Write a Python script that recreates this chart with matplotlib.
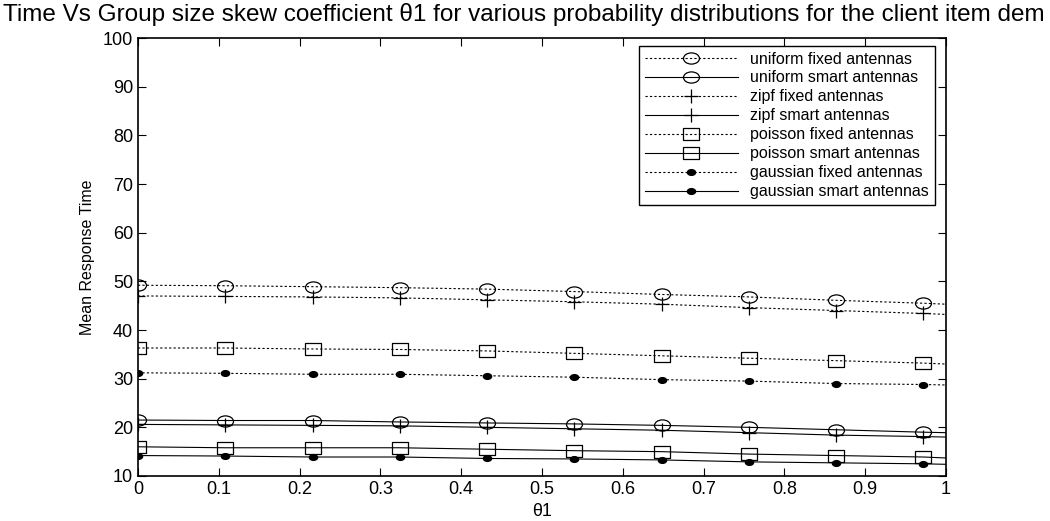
import numpy as np
import matplotlib
matplotlib.use("Agg")
import matplotlib.pyplot as plt
from matplotlib.path import Path
from matplotlib.transforms import Affine2D

plt.rcParams["font.family"] = ["Liberation Sans", "DejaVu Sans"]

theta = [0, 0.108, 0.216, 0.324, 0.432, 0.54, 0.648, 0.756, 0.864, 0.972, 1.0]

uniform_fixed = [49.2, 49.1, 48.9, 48.7, 48.4, 47.9, 47.3, 46.8, 46.1, 45.5, 45.3]
uniform_smart = [21.5, 21.4, 21.4, 21.1, 20.9, 20.7, 20.4, 20.0, 19.5, 19.0, 18.9]
zipf_fixed = [47.0, 46.9, 46.8, 46.6, 46.2, 45.8, 45.3, 44.6, 44.0, 43.4, 43.2]
zipf_smart = [20.6, 20.5, 20.4, 20.3, 20.0, 19.7, 19.4, 18.9, 18.4, 18.1, 18.0]
poisson_fixed = [36.3, 36.3, 36.1, 36.0, 35.7, 35.2, 34.7, 34.2, 33.7, 33.2, 33.0]
poisson_smart = [16.0, 15.8, 15.8, 15.8, 15.5, 15.2, 15.0, 14.5, 14.2, 13.9, 13.7]
gaussian_fixed = [31.2, 31.1, 30.9, 30.9, 30.6, 30.3, 29.8, 29.5, 29.0, 28.8, 28.7]
gaussian_smart = [14.2, 14.1, 13.9, 13.9, 13.6, 13.5, 13.3, 12.9, 12.7, 12.5, 12.4]

labels = ["uniform fixed antennas", "uniform smart antennas",
          "zipf fixed antennas", "zipf smart antennas",
          "poisson fixed antennas", "poisson smart antennas",
          "gaussian fixed antennas", "gaussian smart antennas"]

# squashed markers (the original picture is stretched sideways)
ellipse = Path.unit_circle().transformed(Affine2D().scale(1, 0.7))
rect = Path.unit_rectangle().transformed(Affine2D().translate(-0.5, -0.5).scale(1, 0.7))

series = [uniform_fixed, uniform_smart, zipf_fixed, zipf_smart,
          poisson_fixed, poisson_smart, gaussian_fixed, gaussian_smart]
markers = [ellipse, ellipse, "+", "+", rect, rect, ellipse, ellipse]
msizes = [11.5, 11.5, 10, 10, 11.5, 11.5, 6, 6]
filled = [False, False, False, False, False, False, True, True]

fig = plt.figure(figsize=(10.5, 5.21), dpi=100)
ax = fig.add_axes([0.1314, 0.0864, 0.7696, 0.8406])

for i, ys in enumerate(series):
    fixed = i % 2 == 0
    ax.plot(theta, ys, color="black", lw=0.8,
            linestyle=(0, (2, 2)) if fixed else "-",
            marker=markers[i], markersize=msizes[i], markevery=list(range(10)),
            markerfacecolor="black" if filled[i] else "none",
            markeredgecolor="black", markeredgewidth=0.9, label=labels[i])

ax.set_xlim(0, 1)
ax.set_ylim(10, 100)
ax.set_xticks(np.arange(0, 1.01, 0.1))
ax.set_xticklabels(["0", "0.1", "0.2", "0.3", "0.4", "0.5", "0.6", "0.7", "0.8", "0.9", "1"])
ax.set_yticks(range(10, 101, 10))
ax.tick_params(direction="in", top=True, right=True, labelsize=13, length=6, width=0.8)
for s in ax.spines.values():
    s.set_linewidth(1.2)

ax.set_xlabel("\u03b81", fontsize=13, labelpad=4)
ax.set_ylabel("Mean Response Time", fontsize=11.5, labelpad=6)

# the title runs off the figure in the original, this is the part that shows
fig.text(0.003, 0.995, "Time Vs Group size skew coefficient \u03b81 for various "
         "probability distributions for the client item dem",
         fontsize=17.5, ha="left", va="top")

leg = ax.legend(loc="upper right", fontsize=11.5, frameon=True, fancybox=False,
                edgecolor="black", framealpha=1, handlelength=5.8,
                labelspacing=0.25, borderpad=0.35, borderaxespad=0,
                bbox_to_anchor=(0.986, 0.982))
leg.get_frame().set_linewidth(1.0)

plt.savefig("out.png", dpi=100)
